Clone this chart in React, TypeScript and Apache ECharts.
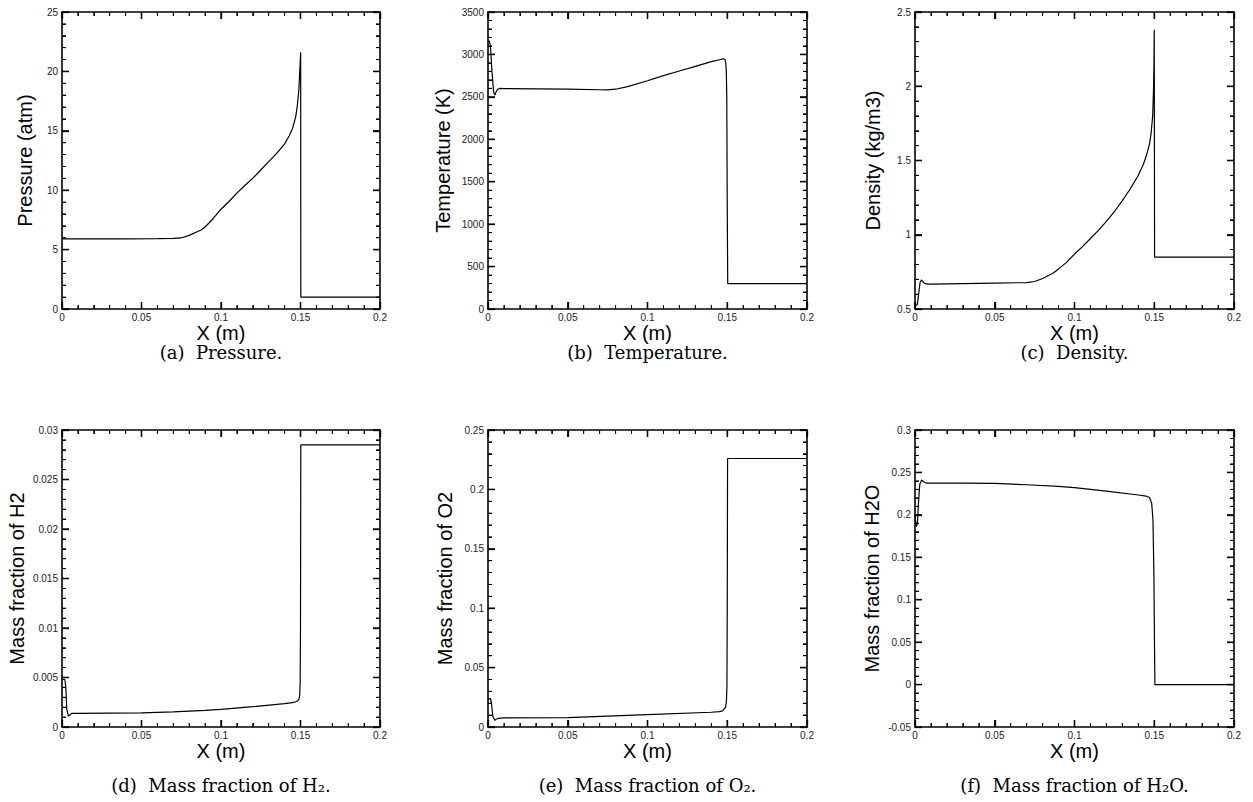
import React, { useEffect, useRef } from "react";
import * as echarts from "echarts";

// ---------- data ----------
const xTicks = [0, 0.05, 0.1, 0.15, 0.2];

const pressureX = [0, 0.02, 0.04, 0.06, 0.07, 0.075, 0.08, 0.085, 0.0875, 0.09, 0.095, 0.1, 0.105, 0.11, 0.115, 0.12, 0.125, 0.13, 0.135, 0.14, 0.143, 0.145, 0.147, 0.148, 0.149, 0.1495, 0.1499, 0.1501, 0.1502, 0.2];
const pressureY = [5.9, 5.9, 5.9, 5.92, 5.95, 5.98, 6.2, 6.5, 6.65, 6.9, 7.6, 8.4, 9.05, 9.75, 10.4, 11.0, 11.7, 12.4, 13.1, 13.9, 14.6, 15.2, 16.2, 17.1, 18.5, 19.9, 21.0, 21.6, 1.0, 1.0];

const tempX = [0, 0.0008, 0.0015, 0.0025, 0.0035, 0.0042, 0.005, 0.006, 0.0075, 0.01, 0.03, 0.05, 0.07, 0.075, 0.08, 0.0875, 0.1, 0.11, 0.12, 0.13, 0.14, 0.146, 0.1475, 0.1485, 0.149, 0.1494, 0.1497, 0.15, 0.1503, 0.2];
const tempY = [3150, 3160, 3100, 2800, 2560, 2520, 2555, 2590, 2600, 2597, 2595, 2592, 2584, 2582, 2590, 2620, 2690, 2750, 2805, 2860, 2915, 2940, 2950, 2940, 2910, 2800, 2500, 1200, 300, 300];

const densX = [0, 0.0015, 0.0025, 0.0032, 0.004, 0.005, 0.006, 0.008, 0.01, 0.03, 0.05, 0.07, 0.075, 0.08, 0.0867, 0.09, 0.095, 0.1, 0.105, 0.11, 0.115, 0.12, 0.125, 0.13, 0.135, 0.14, 0.143, 0.145, 0.147, 0.148, 0.149, 0.1495, 0.1498, 0.15, 0.1502, 0.2];
const densY = [0.52, 0.53, 0.62, 0.68, 0.695, 0.685, 0.672, 0.668, 0.668, 0.671, 0.674, 0.678, 0.685, 0.705, 0.742, 0.77, 0.814, 0.87, 0.92, 0.975, 1.03, 1.09, 1.155, 1.23, 1.31, 1.4, 1.47, 1.53, 1.61, 1.68, 1.8, 1.96, 2.14, 2.38, 0.85, 0.85];

const h2X = [0, 0.0018, 0.0024, 0.003, 0.004, 0.005, 0.006, 0.01, 0.03, 0.05, 0.07, 0.09, 0.1, 0.12, 0.14, 0.145, 0.147, 0.148, 0.149, 0.1495, 0.1498, 0.15, 0.1502, 0.2];
const h2Y = [0.0048, 0.0048, 0.004, 0.0018, 0.0011, 0.0012, 0.00137, 0.00138, 0.0014, 0.00142, 0.00152, 0.00168, 0.00178, 0.00205, 0.00236, 0.00246, 0.00255, 0.00262, 0.0028, 0.0032, 0.0045, 0.01, 0.0285, 0.0285];

const o2X = [0, 0.0015, 0.0022, 0.003, 0.0042, 0.005, 0.0063, 0.01, 0.05, 0.1, 0.14, 0.145, 0.147, 0.148, 0.149, 0.1495, 0.1498, 0.15, 0.1502, 0.2];
const o2Y = [0.0235, 0.024, 0.02, 0.009, 0.0056, 0.0065, 0.0072, 0.0076, 0.0079, 0.0104, 0.0124, 0.0129, 0.0136, 0.0149, 0.017, 0.022, 0.035, 0.1, 0.226, 0.226];

const h2oX = [0, 0.0008, 0.0015, 0.0022, 0.003, 0.0042, 0.0055, 0.007, 0.01, 0.03, 0.05, 0.07, 0.09, 0.1, 0.12, 0.14, 0.145, 0.147, 0.1484, 0.1492, 0.1498, 0.1501, 0.1504, 0.2];
const h2oY = [0.2, 0.186, 0.19, 0.215, 0.236, 0.241, 0.239, 0.2375, 0.2375, 0.2375, 0.237, 0.2355, 0.2335, 0.232, 0.228, 0.2234, 0.222, 0.2205, 0.2135, 0.194, 0.127, 0.06, 0, 0];

const yNames = ["Pressure (atm)", "Temperature (K)", "Density (kg/m3)", "Mass fraction of H2", "Mass fraction of O2", "Mass fraction of H2O"];
const yMins = [0, 0, 0.5, 0, 0, -0.05];
const yMaxs = [25, 3500, 2.5, 0.03, 0.25, 0.3];
const yIntervals = [5, 500, 0.5, 0.005, 0.05, 0.05];
const captions = [
  "(a)  Pressure.",
  "(b)  Temperature.",
  "(c)  Density.",
  "(d)  Mass fraction of H\u2082.",
  "(e)  Mass fraction of O\u2082.",
  "(f)  Mass fraction of H\u2082O.",
];
const seriesX = [pressureX, tempX, densX, h2X, o2X, h2oX];
const seriesY = [pressureY, tempY, densY, h2Y, o2Y, h2oY];
const MINOR_SPLIT = 5;

// ---------- layout ----------
const GRIDS = [
  { left: 62, top: 12, width: 318, height: 297 },
  { left: 488, top: 12, width: 319, height: 297 },
  { left: 915, top: 12, width: 319, height: 297 },
  { left: 62, top: 430, width: 318, height: 297 },
  { left: 488, top: 430, width: 319, height: 297 },
  { left: 915, top: 430, width: 319, height: 297 },
];
const Y_NAME_GAPS = [27, 35, 32, 35, 33, 33];
const X_NAME_GAPS = [14, 14, 14, 14, 14, 14];
const CAPTION_GAPS = [34, 34, 34, 49, 49, 49];

const SANS = "Liberation Sans, Arial, Helvetica, sans-serif";
const SERIF = "DejaVu Serif, serif";

const fmt = (v: number) => String(parseFloat(Number(v).toPrecision(10)));

// tick positions derived from an axis range (major + minor)
function tickItems(kind: number, min: number, max: number, interval: number) {
  const items: number[][] = [];
  const step = interval / MINOR_SPLIT;
  const n = Math.round((max - min) / step);
  for (let k = 0; k <= n; k++) {
    const v = parseFloat((min + k * step).toPrecision(10));
    items.push([kind, v, k % MINOR_SPLIT === 0 ? 1 : 0]);
  }
  return items;
}

function axisCommon(showLabel: boolean) {
  return {
    axisLine: { show: true, onZero: false, lineStyle: { color: "#000", width: 1.6 } },
    axisTick: { show: true, inside: true, length: 7, lineStyle: { color: "#000", width: 1.3 } },
    minorTick: { show: true, splitNumber: MINOR_SPLIT, length: 4, lineStyle: { color: "#000", width: 1 } },
    splitLine: { show: false },
    minorSplitLine: { show: false },
    axisLabel: {
      show: showLabel,
      fontSize: 10,
      fontFamily: SANS,
      color: "#222",
      formatter: fmt,
    },
  };
}

function buildOption() {
  const grid: any[] = [];
  const xAxis: any[] = [];
  const yAxis: any[] = [];
  const series: any[] = [];

  GRIDS.forEach((g, i) => {
    grid.push({ ...g, containLabel: false });
    const xMin = xTicks[0];
    const xMax = xTicks[xTicks.length - 1];
    const xInt = xTicks[1] - xTicks[0];
    const xBase = { type: "value", gridIndex: i, min: xMin, max: xMax, interval: xInt };
    const b = axisCommon(true);
    const xi = xAxis.length;
    xAxis.push({
      ...xBase,
      ...b,
      position: "bottom",
      axisLabel: { ...b.axisLabel, margin: 3 },
      name: "X (m)",
      nameLocation: "middle",
      nameGap: X_NAME_GAPS[i],
      nameMoveOverlap: false,
      nameTextStyle: { fontSize: 20, fontFamily: SANS, color: "#000" },
    });
    xAxis.push({ ...xBase, ...axisCommon(false), position: "top" });
    xAxis.push({
      ...xBase,
      position: "bottom",
      axisLine: { show: false, onZero: false },
      axisTick: { show: false },
      minorTick: { show: false },
      axisLabel: { show: false },
      splitLine: { show: false },
      name: captions[i],
      nameLocation: "middle",
      nameGap: CAPTION_GAPS[i],
      nameMoveOverlap: false,
      nameTextStyle: { fontSize: 18, fontFamily: SERIF, color: "#000" },
    });

    const yMin = yMins[i];
    const yMax = yMaxs[i];
    const yBase = { type: "value", gridIndex: i, min: yMin, max: yMax, interval: yIntervals[i] };
    const l = axisCommon(true);
    const yi = yAxis.length;
    yAxis.push({
      ...yBase,
      ...l,
      position: "left",
      axisLabel: { ...l.axisLabel, margin: 4 },
      name: yNames[i],
      nameLocation: "middle",
      nameGap: Y_NAME_GAPS[i],
      nameTextStyle: { fontSize: 20, fontFamily: SANS, color: "#000" },
    });
    yAxis.push({ ...yBase, ...axisCommon(false), position: "right" });

    series.push({
      type: "line",
      xAxisIndex: xi,
      yAxisIndex: yi,
      data: seriesX[i].map((x, k) => [x, seriesY[i][k]]),
      showSymbol: false,
      lineStyle: { color: "#000", width: 1.2 },
    });

    // inward tick marks on all four sides, placed through the axes' scales
    const ticks = tickItems(0, xMin, xMax, xInt).concat(tickItems(1, yMin, yMax, yIntervals[i]));
    series.push({
      type: "custom",
      xAxisIndex: xi,
      yAxisIndex: yi,
      silent: true,
      clip: false,
      data: ticks,
      renderItem: (_params: any, api: any) => {
        const kind = api.value(0);
        const v = api.value(1);
        const major = api.value(2) === 1;
        const len = major ? 7 : 4;
        const st = { stroke: "#000", lineWidth: major ? 1.3 : 1 };
        if (kind === 0) {
          const a = api.coord([v, yMin]);
          const c = api.coord([v, yMax]);
          return {
            type: "group",
            children: [
              { type: "line", shape: { x1: a[0], y1: a[1], x2: a[0], y2: a[1] - len }, style: st },
              { type: "line", shape: { x1: c[0], y1: c[1], x2: c[0], y2: c[1] + len }, style: st },
            ],
          };
        }
        const p = api.coord([xMin, v]);
        const q = api.coord([xMax, v]);
        return {
          type: "group",
          children: [
            { type: "line", shape: { x1: p[0], y1: p[1], x2: p[0] + len, y2: p[1] }, style: st },
            { type: "line", shape: { x1: q[0], y1: q[1], x2: q[0] - len, y2: q[1] }, style: st },
          ],
        };
      },
    });
  });

  return {
    animation: false,
    backgroundColor: "#fff",
    grid,
    xAxis,
    yAxis,
    series,
  };
}

export default function App() {
  const ref = useRef<HTMLDivElement>(null);
  useEffect(() => {
    if (!ref.current) return;
    document.body.style.margin = "0";
    const chart = echarts.init(ref.current, undefined, { renderer: "svg" });
    chart.setOption(buildOption() as any);
    return () => chart.dispose();
  }, []);
  return (
    <div
      ref={ref}
      style={{ position: "fixed", left: 0, top: 0, width: 1253, height: 802, background: "#fff" }}
    />
  );
}
